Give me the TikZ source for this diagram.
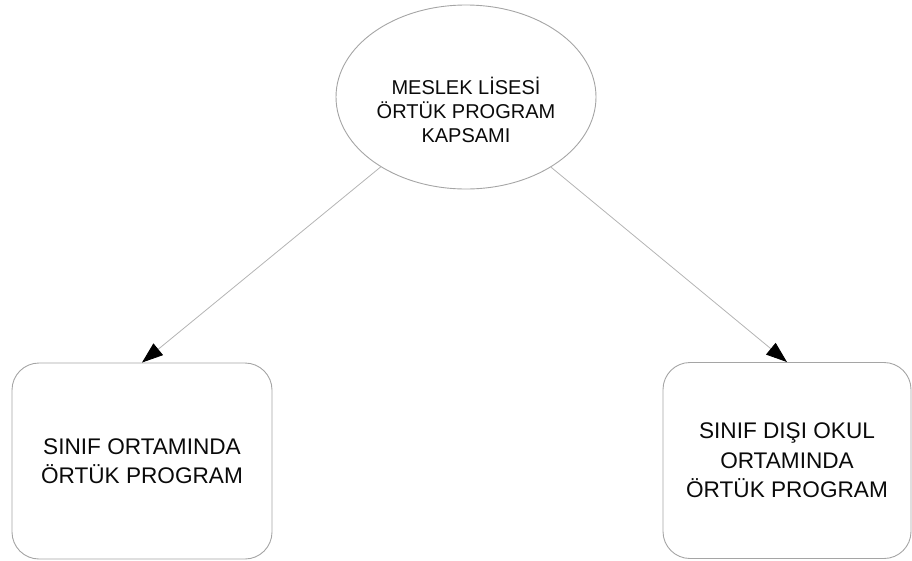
\documentclass[tikz,border=0pt]{standalone}
\usepackage{fontspec}
\setmainfont{Liberation Sans}
\usetikzlibrary{shapes.geometric,arrows.meta}
\definecolor{edgegray}{RGB}{165,165,165}
\definecolor{linegray}{RGB}{180,180,180}
\definecolor{txt}{RGB}{10,10,10}
\begin{document}
\begin{tikzpicture}[x=1pt,y=-1pt,
  oval/.style={draw=edgegray,line width=0.9pt,ellipse,minimum width=260pt,minimum height=184pt,inner sep=0pt},
  boxnode/.style={draw=edgegray,line width=0.9pt,rounded corners=27pt,minimum height=196pt,inner sep=0pt,align=center,text=txt,font=\fontsize{22.6}{29.5}\selectfont},
  ovaltext/.style={align=center,text=txt,font=\fontsize{20}{24}\selectfont,inner sep=0pt},
  link/.style={draw=linegray,line width=0.8pt,-{Triangle[length=21pt,width=15pt,color=black]}}]
\useasboundingbox (0,0) rectangle (912,560);
\node[oval] (top) at (466,97) {};
\node[ovaltext] (toptext) at (466,110) {MESLEK LİSESİ\\ÖRTÜK PROGRAM\\KAPSAMI};
\node[boxnode,minimum width=260pt] (left) at (142,461) {SINIF ORTAMINDA\\ÖRTÜK PROGRAM};
\node[boxnode,minimum width=248pt] (right) at (787,460.5) {SINIF DIŞI OKUL\\ORTAMINDA\\ÖRTÜK PROGRAM};
\draw[link] (top) -- (left.north);
\draw[link] (top) -- (right.north);
\end{tikzpicture}
\end{document}
